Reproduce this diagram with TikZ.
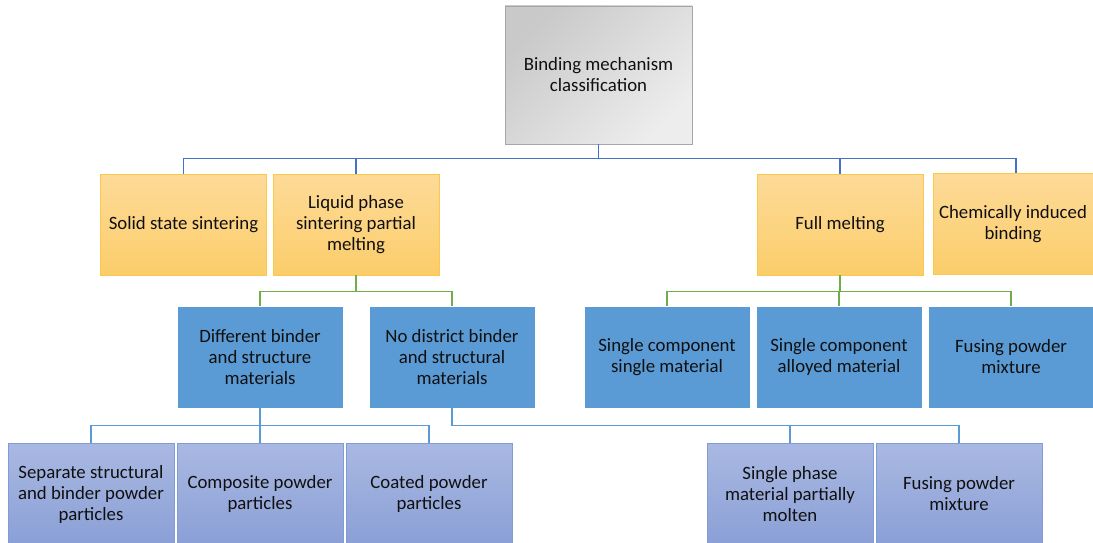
\documentclass[tikz,border=0pt]{standalone}
\usepackage{fontspec}
\setmainfont{Carlito}
\usepackage{tikz}
\usetikzlibrary{positioning, calc}
\definecolor{rootdark}{HTML}{C9C9C9}
\definecolor{rootlight}{HTML}{EDEDED}
\definecolor{rootedge}{HTML}{A6A6A6}
\definecolor{orngtop}{HTML}{FDDA98}
\definecolor{orngbot}{HTML}{FBCD6A}
\definecolor{orngedge}{HTML}{FAC94A}
\definecolor{midblue}{HTML}{5B9BD5}
\definecolor{lavtop}{HTML}{AAB9E2}
\definecolor{lavbot}{HTML}{8A9FD6}
\definecolor{lavedge}{HTML}{7F9CD9}
\definecolor{linkblue}{HTML}{4472C4}
\definecolor{linkgreen}{HTML}{70AD47}
\definecolor{txt}{HTML}{101010}

\begin{document}
\begin{tikzpicture}[x=1pt, y=-1pt,
  box/.style={rectangle, minimum width=166pt, minimum height=101pt, align=center,
    text=txt, font=\fontsize{18.8}{21}\selectfont, line width=0.8pt, inner sep=2pt},
  rootbox/.style={box, minimum width=187pt, minimum height=138pt, draw=rootedge,
    top color=rootdark, bottom color=rootlight, shading angle=45},
  classbox/.style={box, draw=orngedge, top color=orngtop, bottom color=orngbot},
  routebox/.style={box, minimum height=102pt, draw=white, fill=midblue},
  leafbox/.style={box, minimum height=102pt, draw=lavedge, top color=lavtop, bottom color=lavbot},
  topline/.style={draw=linkblue, line width=1.2pt},
  midline/.style={draw=linkgreen, line width=1.2pt},
  lowline/.style={draw=midblue, line width=1.2pt}]
  \useasboundingbox (0,0) rectangle (1093,543);
  \node[rootbox] (root) at (598.5,75) {Binding mechanism\\classification};

  \node[classbox] (solid)  at (183.5,224.5) {Solid state sintering};
  \node[classbox] (liquid) at (356,224.5)   {Liquid phase\\sintering partial\\melting};
  \node[classbox] (full)   at (840,224.5)   {Full melting};
  \node[classbox, minimum width=160pt] (chem) at (1013,224) {Chemically induced\\binding};

  \node[routebox] (diff)    at (260,357)  {Different binder\\and structure\\materials};
  \node[routebox] (nodist)  at (452,357)  {No district binder\\and structural\\materials};
  \node[routebox] (scsm)    at (667,357)  {Single component\\single material};
  \node[routebox] (scam)    at (839,357)  {Single component\\alloyed material};
  \node[routebox] (fusefm)  at (1011,357) {Fusing powder\\mixture};

  \node[leafbox] (sep)     at (91,494)  {Separate structural\\and binder powder\\particles};
  \node[leafbox] (comp)    at (260,494) {Composite powder\\particles};
  \node[leafbox] (coat)    at (429,494) {Coated powder\\particles};
  \node[leafbox] (sphase)  at (790,494) {Single phase\\material partially\\molten};
  \node[leafbox] (fuselp)  at (959,494) {Fusing powder\\mixture};

  \foreach \kid in {solid, liquid, full}
    \draw[topline] (root.south) -- ++(0,14) -| (\kid.north);
  \draw[topline] (root.south) -- ++(0,14) -| ([xshift=3pt]chem.north);

  \foreach \kid in {diff, nodist}
    \draw[midline] (liquid.south) -- ++(0,16) -| (\kid.north);
  \foreach \kid in {scsm, scam, fusefm}
    \draw[midline] (full.south) -- ++(0,16) -| (\kid.north);

  \foreach \kid in {sep, comp, coat}
    \draw[lowline] (diff.south) -- ++(0,17) -| (\kid.north);
  \foreach \kid in {sphase, fuselp}
    \draw[lowline] (nodist.south) -- ++(0,17) -| (\kid.north);
\end{tikzpicture}
\end{document}
